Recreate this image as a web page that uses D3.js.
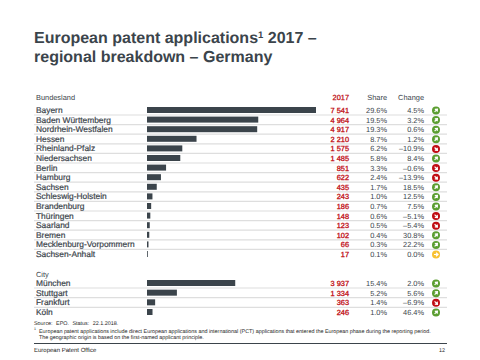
<!DOCTYPE html>
<html>
<head>
<meta charset="utf-8">
<script src="https://cdn.jsdelivr.net/npm/d3@7"></script>
<style>
    html, body { margin: 0; padding: 0; background: #fff; }
    svg { display: block; }
    text { font-family: "Liberation Sans", Arial, sans-serif; fill: #3b444b; text-rendering: geometricPrecision; }
</style>
</head>
<body>
<svg id="chart" width="480" height="360"></svg>
<script>
    let states = ["Bayern", "Baden Württemberg", "Nordrhein-Westfalen", "Hessen", "Rheinland-Pfalz", "Niedersachsen",
        "Berlin", "Hamburg", "Sachsen", "Schleswig-Holstein", "Brandenburg", "Thüringen", "Saarland", "Bremen",
        "Mecklenburg-Vorpommern", "Sachsen-Anhalt"]
    let stateValues = [7541, 4964, 4917, 2210, 1575, 1485, 851, 622, 435, 243, 186, 148, 123, 102, 66, 17]
    let stateShares = [29.6, 19.5, 19.3, 8.7, 6.2, 5.8, 3.3, 2.4, 1.7, 1.0, 0.7, 0.6, 0.5, 0.4, 0.3, 0.1]
    let stateChanges = [4.5, 3.2, 0.6, 1.2, -10.9, 8.4, -0.6, -13.9, 18.5, 12.5, 7.5, -5.1, -5.4, 30.8, 22.2, 0.0]

    let cities = ["München", "Stuttgart", "Frankfurt", "Köln"]
    let cityValues = [3937, 1334, 363, 246]
    let cityShares = [15.4, 5.2, 1.4, 1.0]
    let cityChanges = [2.0, 5.6, -6.9, 46.4]

    let svg = d3.select("#chart")
    let green = "#5b9e31", red = "#c00d14", yellow = "#f8c132", dark = "#3b444b"

    let xScale = d3.scaleLinear().domain([0, 7541]).range([147, 316])
    let stateY = d3.scalePoint().domain(states).range([110, 254])
    let cityY = d3.scalePoint().domain(cities).range([283, 312])

    // Title
    let title = svg.append("text").attr("x", 34).attr("y", 43)
        .style("font-size", "16px").style("font-weight", "bold")
    title.append("tspan").text("European patent applications")
    title.append("tspan").attr("dy", -5).style("font-size", "9.5px").text("1")
    title.append("tspan").attr("dy", 5).text(" 2017 –")
    svg.append("text").attr("x", 34).attr("y", 62)
        .style("font-size", "16px").style("font-weight", "bold")
        .text("regional breakdown – Germany")

    // Column headers
    function header(txt, x, anchor, color) {
        svg.append("text").attr("x", x).attr("y", 100)
            .attr("text-anchor", anchor)
            .style("font-size", "7.4px")
            .style("fill", color || dark)
            .style("stroke", color || "none")
            .style("stroke-width", 0.25)
            .text(txt)
    }
    header("Bundesland", 36, "start")
    header("2017", 349, "end", red)
    header("Share", 387, "end")
    header("Change", 424, "end")
    svg.append("text").attr("x", 36).attr("y", 277).style("font-size", "7.4px").text("City")

    function fmtValue(v) {
        return d3.format(",")(v).replace(",", " ")
    }
    function fmtPct(v) {
        return (v < 0 ? "–" : "") + d3.format(".1f")(Math.abs(v)) + "%"
    }

    // One block of rows: separator, label, bar, value, share, change, arrow icon
    function drawRows(names, values, shares, changes, y) {
        let rows = svg.append("g").selectAll("g")
            .data(names.map((name, i) => ({ name, value: values[i], share: shares[i], change: changes[i], last: i == names.length - 1 })))
            .enter().append("g")
            .attr("transform", d => "translate(0," + y(d.name) + ")")

        rows.filter(d => !d.last).append("line")
            .attr("x1", 34).attr("x2", 447)
            .attr("y1", 5).attr("y2", 5)
            .attr("stroke", "#dedede")
            .attr("stroke-width", 1.2)

        rows.append("rect")
            .attr("x", xScale(0))
            .attr("y", -3)
            .attr("width", d => Math.max(xScale(d.value) - xScale(0), 0.8))
            .attr("height", 6)
            .attr("fill", dark)

        rows.append("text").attr("x", 36).attr("y", 3)
            .style("font-size", "8.4px")
            .style("stroke", dark)
            .style("stroke-width", 0.2)
            .text(d => d.name)

        rows.append("text").attr("x", 349).attr("y", 3)
            .attr("text-anchor", "end")
            .style("font-size", "7.4px")
            .style("fill", red)
            .style("stroke", red)
            .style("stroke-width", 0.3)
            .text(d => fmtValue(d.value))

        rows.append("text").attr("x", 387).attr("y", 3)
            .attr("text-anchor", "end")
            .style("font-size", "7.4px")
            .text(d => d.share.toFixed(1) + "%")

        rows.append("text").attr("x", 424).attr("y", 3)
            .attr("text-anchor", "end")
            .style("font-size", "7.4px")
            .text(d => fmtPct(d.change))

        let icons = rows.append("g").attr("transform", "translate(436,0.5)")
        icons.append("circle").attr("r", 4)
            .attr("fill", d => d.change > 0 ? green : d.change < 0 ? red : yellow)
        icons.append("path")
            .attr("d", "M-2,0H1.2M0,-1.7L2,0L0,1.7")
            .attr("transform", d => "rotate(" + (d.change > 0 ? -45 : d.change < 0 ? 45 : 0) + ")")
            .attr("fill", "none")
            .attr("stroke", "#fff")
            .attr("stroke-width", 1.2)
    }

    drawRows(states, stateValues, stateShares, stateChanges, stateY)
    drawRows(cities, cityValues, cityShares, cityChanges, cityY)

    // Footer
    function small(txt, x, y, size, anchor, gap) {
        svg.append("text").attr("x", x).attr("y", y)
            .attr("text-anchor", anchor || "start")
            .style("font-size", size + "px")
            .style("word-spacing", (gap || 0) + "px")
            .style("fill", "#222")
            .text(txt)
    }
    small("Source: EPO. Status: 22.1.2018.", 34, 325, 5.4, "start", 2)
    small("1", 34, 330, 3.6)
    small("European patent applications include direct European applications and international (PCT) applications that entered the European phase during the reporting period.", 39, 333, 5.4)
    small("The geographic origin is based on the first-named applicant principle.", 39, 339, 5.4)
    svg.append("line").attr("x1", 34).attr("x2", 447).attr("y1", 343.5).attr("y2", 343.5)
        .attr("stroke", dark).attr("stroke-width", 1)
    small("European Patent Office", 34, 352, 6)
    small("12", 445, 352, 5.4, "end")
</script>
</body>
</html>
